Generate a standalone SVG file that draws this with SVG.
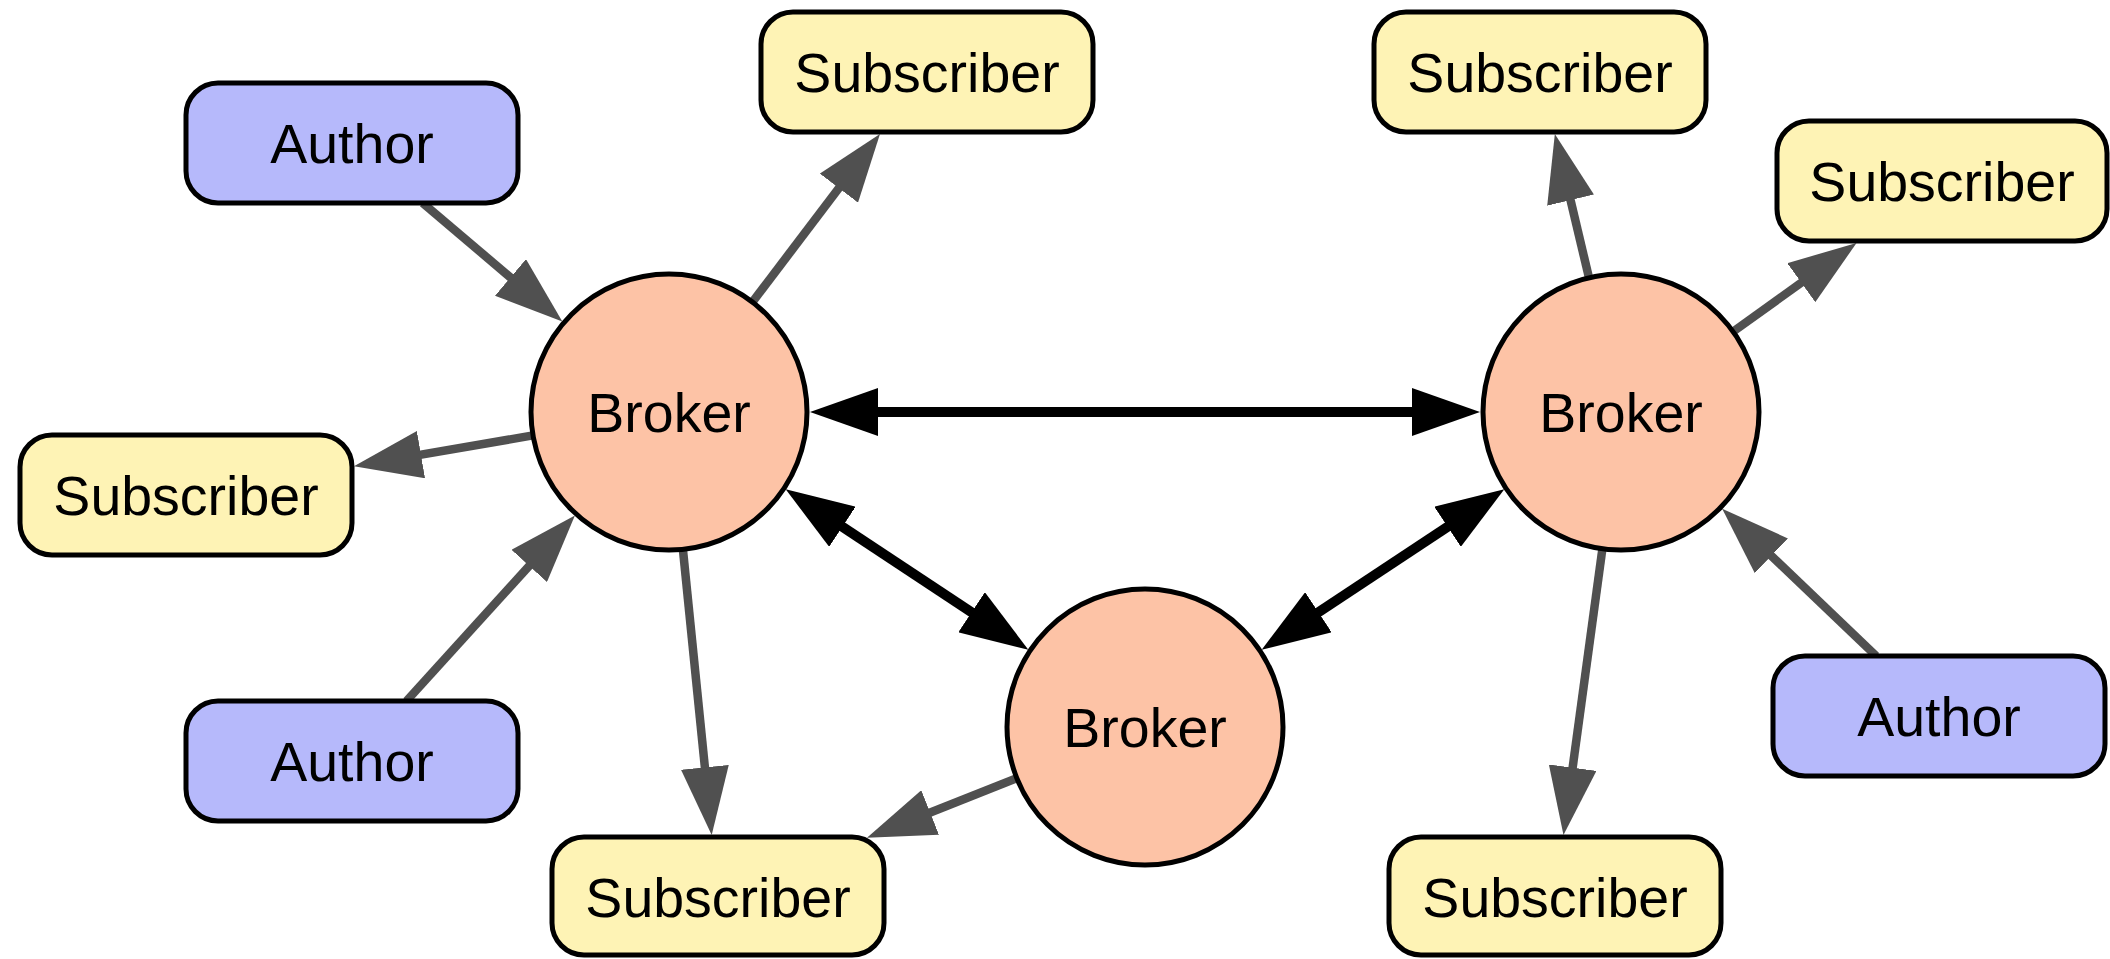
<svg xmlns="http://www.w3.org/2000/svg" width="2110" height="959" viewBox="0 0 2110 959">
<style>
.box{stroke:#000;stroke-width:5}
.author{fill:#b6b9fb}
.sub{fill:#fef3b5}
.broker{fill:#fdc3a6;stroke:#000;stroke-width:5}
.lbl{font-family:"Liberation Sans",Arial,sans-serif;font-size:55.5px;fill:#000;text-anchor:middle}
.g{stroke:#505050;stroke-width:8.5;fill:none;marker-end:url(#ag)}
.b{stroke:#000;stroke-width:10;fill:none;marker-start:url(#ab);marker-end:url(#ab)}
</style>
<defs>
<marker id="ag" viewBox="0 0 68 48" markerWidth="68" markerHeight="48" markerUnits="userSpaceOnUse" refX="50" refY="24" orient="auto-start-reverse"><path d="M0,0 L68,24 L0,48 z" fill="#505050"/></marker>
<marker id="ab" viewBox="0 0 68 48" markerWidth="68" markerHeight="48" markerUnits="userSpaceOnUse" refX="50" refY="24" orient="auto-start-reverse"><path d="M0,0 L68,24 L0,48 z" fill="#000"/></marker>
</defs>
<rect width="2110" height="959" fill="#fff"/>
<g id="connectors">
<line class="g" x1="422.7" y1="203" x2="548.6" y2="309.8"/>
<line class="g" x1="752.4" y1="302.1" x2="869.1" y2="148.3"/>
<line class="g" x1="533" y1="435.4" x2="371.7" y2="463.1"/>
<line class="g" x1="406.5" y1="701" x2="562.8" y2="528.9"/>
<line class="g" x1="682.9" y1="549.3" x2="709.9" y2="817.1"/>
<line class="g" x1="1016.8" y1="778.1" x2="883.7" y2="831"/>
<line class="b" x1="828" y1="412" x2="1462" y2="412"/>
<line class="b" x1="800.7" y1="499.2" x2="1013.3" y2="639.8"/>
<line class="b" x1="1489.3" y1="499.2" x2="1276.7" y2="639.8"/>
<line class="g" x1="1589" y1="277.8" x2="1559" y2="151.5"/>
<line class="g" x1="1733.1" y1="331.6" x2="1841.9" y2="253.5"/>
<line class="g" x1="1602.4" y1="548.7" x2="1565.9" y2="817.2"/>
<line class="g" x1="1876.2" y1="656" x2="1735.2" y2="521.2"/>
</g>
<g id="author1"><rect class="box author" x="186" y="83" width="332" height="120" rx="32"/><text class="lbl" x="352" y="163">Author</text></g>
<g id="author2"><rect class="box author" x="186" y="701" width="332" height="120" rx="32"/><text class="lbl" x="352" y="781">Author</text></g>
<g id="author3"><rect class="box author" x="1773" y="656" width="332" height="120" rx="32"/><text class="lbl" x="1939" y="736">Author</text></g>
<g id="sub1"><rect class="box sub" x="761" y="12" width="332" height="120" rx="32"/><text class="lbl" x="927" y="92">Subscriber</text></g>
<g id="sub2"><rect class="box sub" x="20" y="435" width="332" height="120" rx="32"/><text class="lbl" x="186" y="515">Subscriber</text></g>
<g id="sub3"><rect class="box sub" x="552" y="837" width="332" height="118" rx="32"/><text class="lbl" x="718" y="917">Subscriber</text></g>
<g id="sub4"><rect class="box sub" x="1374" y="12" width="332" height="120" rx="32"/><text class="lbl" x="1540" y="92">Subscriber</text></g>
<g id="sub5"><rect class="box sub" x="1777" y="121" width="330" height="120" rx="32"/><text class="lbl" x="1942" y="201">Subscriber</text></g>
<g id="sub6"><rect class="box sub" x="1389" y="837" width="332" height="118" rx="32"/><text class="lbl" x="1555" y="917">Subscriber</text></g>
<g id="brokerL"><circle class="broker" cx="669" cy="412" r="138"/><text class="lbl" x="669" y="432">Broker</text></g>
<g id="brokerM"><circle class="broker" cx="1145" cy="727" r="138"/><text class="lbl" x="1145" y="747">Broker</text></g>
<g id="brokerR"><circle class="broker" cx="1621" cy="412" r="138"/><text class="lbl" x="1621" y="432">Broker</text></g>
</svg>
